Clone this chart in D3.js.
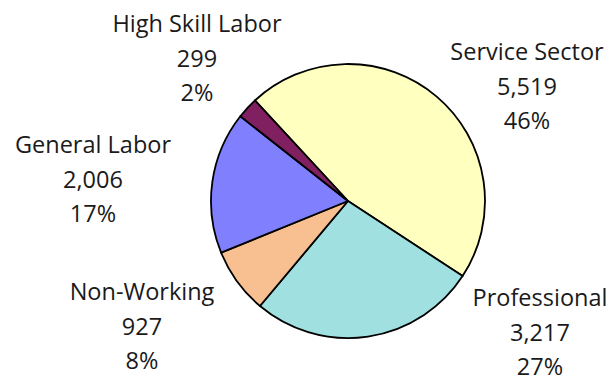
<!DOCTYPE html>
<html>
<head>
<meta charset="utf-8">
<script src="https://cdn.jsdelivr.net/npm/d3@7"></script>
<style>
  html, body { margin: 0; padding: 0; background: #fff; }
  svg { display: block; }
  text { font-family: "Open Sans", "Noto Sans", sans-serif; fill: #1a1a1a; }
</style>
</head>
<body>
<svg id="chart" width="614" height="378"></svg>
<script>
// Workforce composition by sector
const categories = ["Service Sector", "Professional", "Non-Working", "General Labor", "High Skill Labor"];
const counts = [5519, 3217, 927, 2006, 299];
const colors = ["#FFFFC0", "#A0E0E0", "#F8C090", "#8080FF", "#802060"];

const width = 614, height = 378;
const cx = 348, cy = 201, radius = 137;
const startDeg = -42.8;

// Label anchor points (center of the three-line block, first baseline)
const labelAnchors = [
  [527, 60],   // Service Sector
  [540, 306],  // Professional
  [142, 300],  // Non-Working
  [93, 153],   // General Labor
  [197, 32]    // High Skill Labor
];
const lineGap = 34.5;

const svg = d3.select("#chart");
const total = d3.sum(counts);
const data = categories.map((c, i) => ({ name: c, value: counts[i], color: colors[i] }));

const start = startDeg * Math.PI / 180;
const pie = d3.pie()
  .value(d => d.value)
  .sort(null)
  .startAngle(start)
  .endAngle(start + 2 * Math.PI);

const arc = d3.arc().innerRadius(0).outerRadius(radius);

const g = svg.append("g").attr("transform", `translate(${cx},${cy})`);
g.selectAll("path")
  .data(pie(data))
  .join("path")
  .attr("d", arc)
  .attr("fill", d => d.data.color)
  .attr("stroke", "#000")
  .attr("stroke-width", 1.8)
  .attr("stroke-linejoin", "round");

const fmtNum = d3.format(",");
const fmtPct = d3.format(".0%");

const labels = svg.selectAll("g.label")
  .data(data)
  .join("g")
  .attr("class", "label")
  .attr("transform", (d, i) => `translate(${labelAnchors[i][0]},${labelAnchors[i][1]})`);

labels.each(function(d) {
  const lines = [d.name, fmtNum(d.value), fmtPct(d.value / total)];
  d3.select(this).selectAll("text")
    .data(lines)
    .join("text")
    .attr("x", 0)
    .attr("y", (t, j) => j * lineGap)
    .attr("text-anchor", "middle")
    .attr("font-size", 23.5)
    .text(t => t);
});
</script>
</body>
</html>
